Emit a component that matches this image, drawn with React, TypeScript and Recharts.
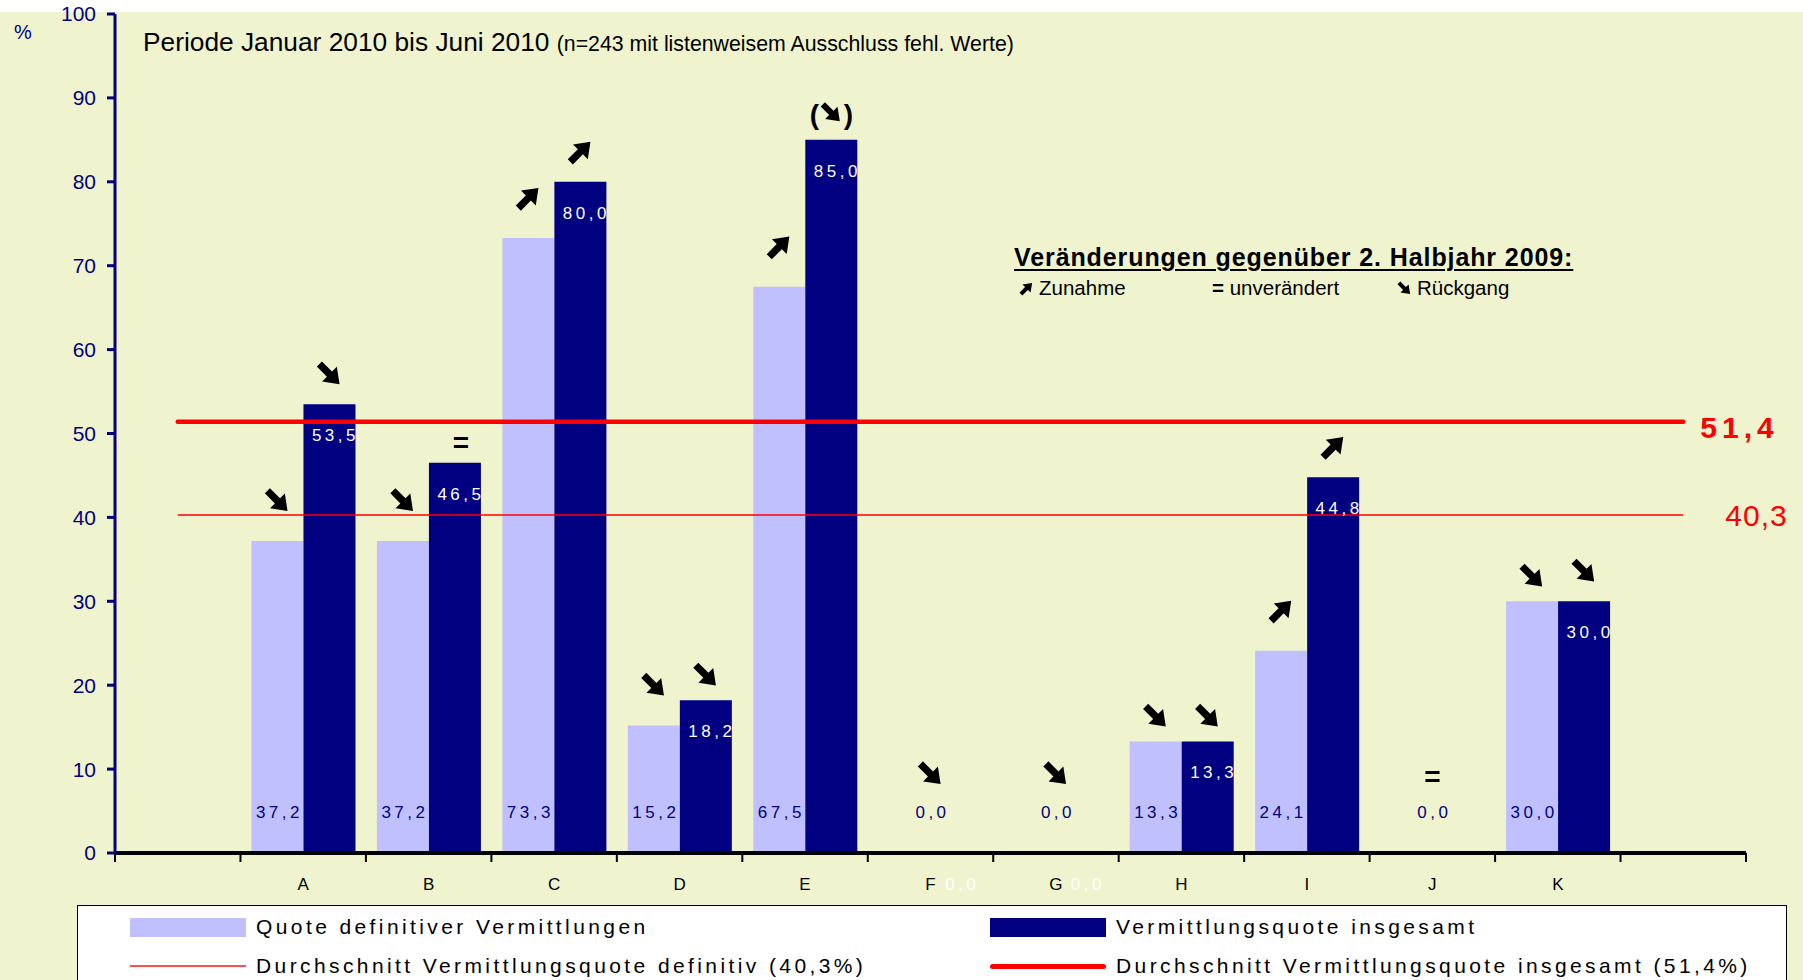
import React from 'react';
import { ComposedChart, Bar, Line, XAxis, YAxis, LabelList } from 'recharts';

// categories (empty slots left and right, as in the original Excel chart)
const categories = ['', 'A', 'B', 'C', 'D', 'E', 'F', 'G', 'H', 'I', 'J', 'K', ''];
const quoteDefinitiv = [null, 37.2, 37.2, 73.3, 15.2, 67.5, 0, 0, 13.3, 24.1, 0, 30.0, null];
const quoteGesamt = [null, 53.5, 46.5, 80.0, 18.2, 85.0, 0, 0, 13.3, 44.8, null, 30.0, null];
// change vs. 2nd half 2009
const trendDefinitiv = ['', '↘', '↘', '↗', '↘', '↗', '↘', '↘', '↘', '↗', '=', '↘', ''];
const trendGesamt = ['', '↘', '=', '↗', '↘', '(↘)', '', '', '↘', '↗', '', '↘', ''];
const avgDefinitiv = 40.3;
const avgGesamt = 51.4;
const yTicks = [0, 10, 20, 30, 40, 50, 60, 70, 80, 90, 100];

const seriesNames = {
  def: 'Quote definitiver Vermittlungen',
  ges: 'Vermittlungsquote insgesamt',
  avgDef: 'Durchschnitt Vermittlungsquote definitiv (40,3%)',
  avgGes: 'Durchschnitt Vermittlungsquote insgesamt (51,4%)',
};

const LIGHT = '#C0C0FF';
const NAVY = '#000080';
const RED = '#FF0000';
const BG = '#EFF4CE';
const FONT = "'Liberation Sans', Arial, sans-serif";

const W = 1803;
const H = 980;
const MARGIN = { top: 14, right: 57, bottom: 87, left: 55 };
const Y_AXIS_W = 60;
const X_AXIS_H = 40;
const CAT_GAP = 11;
const BAND = (W - MARGIN.left - Y_AXIS_W - MARGIN.right) / categories.length;
const BAR_W = (BAND - 2 * CAT_GAP) / 2;
const PLOT_BOTTOM = H - MARGIN.bottom - X_AXIS_H;

const data = categories.map((name, i) => ({
  name,
  def: quoteDefinitiv[i],
  ges: quoteGesamt[i],
  defTrend: trendDefinitiv[i],
  gesTrend: trendGesamt[i],
  avgDef: avgDefinitiv,
  avgGes: avgGesamt,
}));

const fmt = (v: number) => v.toFixed(1).replace('.', ',');

const box = (p: any) => {
  const vb = p.viewBox || {};
  return {
    x: p.x ?? vb.x ?? 0,
    y: p.y ?? vb.y ?? 0,
    width: p.width ?? vb.width ?? 0,
    height: p.height ?? vb.height ?? 0,
  };
};

const ARROW_PTS = '-15,-3.8 0,-3.8 0,-11 15,0 0,11 0,3.8 -15,3.8';

const Arrow = ({ cx, cy, up, s = 0.95 }: { cx: number; cy: number; up: boolean; s?: number }) => (
  <polygon points={ARROW_PTS} transform={`translate(${cx},${cy}) rotate(${up ? -45 : 45}) scale(${s})`} fill="#000" />
);

const trendMark = (t: string, cx: number, cy: number) => {
  if (t === '↗') return <Arrow cx={cx} cy={cy} up />;
  if (t === '↘') return <Arrow cx={cx} cy={cy} up={false} />;
  if (t === '=') {
    return (
      <text x={cx} y={cy + 9} textAnchor="middle" fontSize={28} fontWeight="bold" fontFamily={FONT} fill="#000">
        =
      </text>
    );
  }
  if (t === '(↘)') {
    return (
      <g>
        <text x={cx - 17} y={cy + 10} textAnchor="middle" fontSize={28} fontWeight="bold" fontFamily={FONT} fill="#000">(</text>
        <Arrow cx={cx} cy={cy - 1} up={false} s={0.8} />
        <text x={cx + 17} y={cy + 10} textAnchor="middle" fontSize={28} fontWeight="bold" fontFamily={FONT} fill="#000">)</text>
      </g>
    );
  }
  return null;
};

const XTick = (props: any) => {
  const { x, y, payload, index } = props;
  const last = index === categories.length - 1;
  return (
    <g>
      <line x1={x - BAND / 2} y1={y} x2={x - BAND / 2} y2={y + 9} stroke="#000" strokeWidth={2} />
      {last && <line x1={x + BAND / 2} y1={y} x2={x + BAND / 2} y2={y + 9} stroke="#000" strokeWidth={2} />}
      <text x={x} y={y + 37} textAnchor="middle" fontSize={17} fontFamily={FONT} fill="#000">
        {payload.value}
      </text>
    </g>
  );
};

const valueText = (x: number, y: number, v: string, fill: string) => (
  <text x={x} y={y} textAnchor="middle" fontSize={17} letterSpacing={3.5} fontFamily={FONT} fill={fill}>
    {v}
  </text>
);

// labels on the bars (non-zero values)
const defValueLabel = (props: any) => {
  const { value } = props;
  if (value === null || value === undefined) return null;
  const b = box(props);
  return valueText(b.x + b.width / 2 + 2, b.y + b.height - 35, fmt(value), NAVY);
};

const gesValueLabel = (props: any) => {
  const { value } = props;
  if (value === null || value === undefined) return null;
  const b = box(props);
  return valueText(b.x + b.width / 2 + 6, b.y + 37, fmt(value), '#FFFFFF');
};

const defTrendLabel = (props: any) => {
  const { value } = props;
  if (!value || !value.t) return null;
  const b = box(props);
  return trendMark(value.t, b.x + b.width / 2, b.y - (value.same ? 25 : 40));
};

const gesTrendLabel = (props: any) => {
  const { value } = props;
  if (!value) return null;
  const b = box(props);
  return trendMark(value, b.x + b.width / 2 + (value === '=' ? 6 : 0), b.y - (value === '=' ? 20 : value.length > 1 ? 26 : value === '↘' && b.height < 200 ? 25 : 30));
};

// labels for zero values, placed at the category centre (taken from the line points)
const zeroDefLabel = (props: any) => {
  const { value } = props;
  if (value === null || value === undefined) return null;
  const b = box(props);
  return valueText(b.x + 2, PLOT_BOTTOM - 35, value, NAVY);
};

const zeroDefTrend = (props: any) => {
  const { value } = props;
  if (!value) return null;
  const b = box(props);
  return trendMark(value, b.x, PLOT_BOTTOM - (value === '=' ? 76 : 79));
};

const zeroGesLabel = (props: any) => {
  const { value } = props;
  if (value === null || value === undefined) return null;
  const b = box(props);
  return valueText(b.x + BAR_W / 2 + 6, PLOT_BOTTOM + 37, value, '#FFFFFF');
};

const avgLabel = (bold: boolean, dx: number, dy: number) => (props: any) => {
  const { index, value } = props;
  if (index !== categories.length - 1) return null;
  const b = box(props);
  return (
    <text x={b.x + dx} y={b.y + dy} fontSize={30} fontWeight={bold ? 'bold' : 'normal'} letterSpacing={bold ? 5 : 1} fontFamily={FONT} fill={RED}>
      {fmt(value)}
    </text>
  );
};

const LegendBox = () => {
  const items = [
    { name: seriesNames.def, kind: 'box', color: LIGHT },
    { name: seriesNames.ges, kind: 'box', color: NAVY },
    { name: seriesNames.avgDef, kind: 'thin', color: RED },
    { name: seriesNames.avgGes, kind: 'thick', color: RED },
  ];
  return (
    <div style={{ position: 'absolute', left: 77, top: 905, width: 1710, height: 100, background: '#fff', border: '1px solid #000', boxSizing: 'border-box' }}>
      {items.map((it, i) => {
        const left = i % 2 === 0 ? 52 : 912;
        const cy = i < 2 ? 21 : 60;
        return (
          <div key={it.name} style={{ position: 'absolute', left, top: cy - 14, height: 28, display: 'flex', alignItems: 'center', whiteSpace: 'nowrap' }}>
            {it.kind === 'box' && <div style={{ width: 116, height: 19, background: it.color }} />}
            {it.kind === 'thin' && <div style={{ width: 116, height: 2, background: '#FF5050' }} />}
            {it.kind === 'thick' && <div style={{ width: 116, height: 5, background: it.color, borderRadius: 3 }} />}
            <span style={{ marginLeft: 10, fontFamily: FONT, fontSize: 21, letterSpacing: 3.4, color: '#000' }}>{it.name}</span>
          </div>
        );
      })}
    </div>
  );
};

const MiniArrow = ({ up }: { up: boolean }) => (
  <svg width={17} height={17} viewBox="-10 -10 20 20" style={{ verticalAlign: '-2px', marginRight: 4 }}>
    <polygon points={ARROW_PTS} transform={`rotate(${up ? -45 : 45}) scale(0.62)`} fill="#000" />
  </svg>
);

const text = (style: React.CSSProperties, content: React.ReactNode) => (
  <div style={{ position: 'absolute', whiteSpace: 'nowrap', fontFamily: FONT, lineHeight: 1, ...style }}>{content}</div>
);

export default function App() {
  return (
    <div style={{ position: 'absolute', left: 0, top: 0, width: W, height: H, background: '#fff', overflow: 'hidden' }}>
      <div style={{ position: 'absolute', left: 0, top: 12, width: W, height: H - 12, background: BG }} />
      <div style={{ position: 'absolute', left: 0, top: 0 }}>
        <ComposedChart width={W} height={H} data={data} margin={MARGIN} barCategoryGap={CAT_GAP} barGap={0}>
          <XAxis
            dataKey="name"
            interval={0}
            height={X_AXIS_H}
            axisLine={{ stroke: '#000', strokeWidth: 4 }}
            tickLine={false}
            tickSize={0}
            tickMargin={0}
            tick={<XTick />}
          />
          <YAxis
            domain={[0, 100]}
            ticks={yTicks}
            width={Y_AXIS_W}
            axisLine={{ stroke: NAVY, strokeWidth: 3 }}
            tickLine={{ stroke: NAVY, strokeWidth: 3 }}
            tickSize={8}
            tickMargin={11}
            tick={{ fill: NAVY, fontSize: 21, fontFamily: FONT }}
          />
          <Bar dataKey="def" name={seriesNames.def} fill={LIGHT} isAnimationActive={false}>
            <LabelList dataKey="def" content={defValueLabel} />
            <LabelList dataKey={(d: any) => ({ t: d.defTrend, same: d.def === d.ges })} content={defTrendLabel} />
          </Bar>
          <Bar dataKey="ges" name={seriesNames.ges} fill={NAVY} isAnimationActive={false}>
            <LabelList dataKey="ges" content={gesValueLabel} />
            <LabelList dataKey="gesTrend" content={gesTrendLabel} />
          </Bar>
          <Line dataKey="avgDef" name={seriesNames.avgDef} stroke={RED} strokeWidth={1.5} dot={false} activeDot={false} isAnimationActive={false}>
            <LabelList dataKey="avgDef" content={avgLabel(false, 42, 11)} />
            <LabelList dataKey={(d: any) => (d.def === 0 ? fmt(0) : null)} content={zeroDefLabel} />
            <LabelList dataKey={(d: any) => (d.def === 0 ? d.defTrend : null)} content={zeroDefTrend} />
            <LabelList dataKey={(d: any) => (d.ges === 0 ? fmt(0) : null)} content={zeroGesLabel} />
          </Line>
          <Line dataKey="avgGes" name={seriesNames.avgGes} stroke={RED} strokeWidth={4.5} strokeLinecap="round" dot={false} activeDot={false} isAnimationActive={false}>
            <LabelList dataKey="avgGes" content={avgLabel(true, 17, 16)} />
          </Line>
        </ComposedChart>
      </div>

      {text({ left: 14, top: 22, fontSize: 20, color: NAVY }, '%')}
      {text(
        { left: 143, top: 29, fontSize: 26.3, color: '#000' },
        <>
          Periode Januar 2010 bis Juni 2010 <span style={{ fontSize: 21.3 }}>(n=243 mit listenweisem Ausschluss fehl. Werte)</span>
        </>
      )}
      {text(
        { left: 1014, top: 245, fontSize: 25, letterSpacing: 0.9, fontWeight: 'bold', color: '#000', textDecoration: 'underline', textDecorationThickness: 2, textUnderlineOffset: 3 },
        'Veränderungen gegenüber 2. Halbjahr 2009:'
      )}
      {text({ left: 1018, top: 278, fontSize: 20.5, color: '#000' }, <><MiniArrow up />Zunahme</>)}
      {text({ left: 1212, top: 278, fontSize: 20.5, color: '#000' }, <><b>=</b> unverändert</>)}
      {text({ left: 1396, top: 278, fontSize: 20.5, color: '#000' }, <><MiniArrow up={false} />Rückgang</>)}

      <LegendBox />
    </div>
  );
}
